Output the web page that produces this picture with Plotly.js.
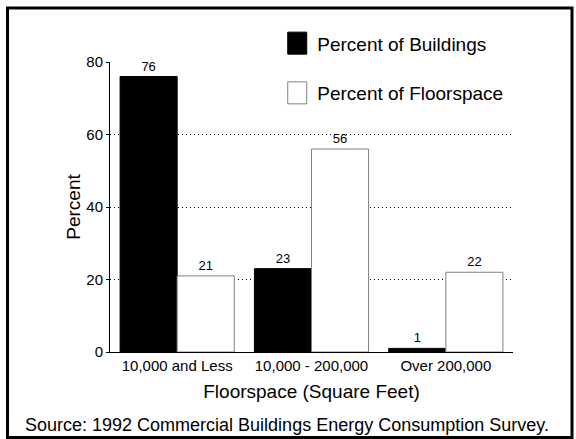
<!DOCTYPE html>
<html>
<head>
<meta charset="utf-8">
<script src="https://cdn.plot.ly/plotly-3.0.1.min.js"></script>
<style>
  html, body { margin: 0; padding: 0; background: #ffffff; }
  #chart { width: 576px; height: 439px; }
</style>
</head>
<body>
<div id="chart"></div>
<script>
// ---- data ----
const categories = ["10,000 and Less", "10,000 - 200,000", "Over 200,000"];
const seriesNames = ["Percent of Buildings", "Percent of Floorspace"];
const percentBuildings = [76, 23, 1];
const percentFloorspace = [21, 56, 22];
const yTickVals = [0, 20, 40, 60, 80];
const xTitle = "Floorspace (Square Feet)";
const yTitle = "Percent";
const sourceNote = "Source: 1992 Commercial Buildings Energy Consumption Survey.";

const FONT = "Liberation Sans, Arial, Helvetica, sans-serif";

const traces = [
  {
    type: "bar",
    name: seriesNames[0],
    legendgroup: "b",
    x: categories,
    y: percentBuildings,
    text: percentBuildings.map(String),
    textposition: "outside",
    cliponaxis: false,
    textfont: { family: FONT, size: 13, color: "#000000" },
    marker: { color: "#000000", line: { color: "#000000", width: 1 } },
    hoverinfo: "skip"
  },
  {
    type: "bar",
    name: seriesNames[1],
    legendgroup: "f",
    x: categories,
    y: percentFloorspace,
    text: percentFloorspace.map(String),
    textposition: "outside",
    cliponaxis: false,
    textfont: { family: FONT, size: 13, color: "#000000" },
    marker: { color: "#ffffff", line: { color: "#808080", width: 1 } },
    hoverinfo: "skip"
  }
];

const layout = {
  width: 576,
  height: 439,
  margin: { l: 110, r: 63, t: 62, b: 87, pad: 0 },
  paper_bgcolor: "#ffffff",
  plot_bgcolor: "#ffffff",
  font: { family: FONT, color: "#000000" },
  barmode: "group",
  bargap: 0.15,
  bargroupgap: 0,
  showlegend: true,
  legend: {
    x: 0.415, xanchor: "left",
    y: 1.13, yanchor: "top",
    bgcolor: "rgba(0,0,0,0)",
    borderwidth: 0,
    font: { family: FONT, size: 19, color: "#000000" },
    tracegroupgap: 22,
    traceorder: "grouped"
  },
  xaxis: {
    type: "category",
    range: [-0.5, 2.5],
    showline: true,
    linecolor: "#000000",
    linewidth: 1,
    ticks: "",
    showgrid: false,
    zeroline: false,
    tickfont: { family: FONT, size: 15, color: "#000000" },
    title: { text: xTitle, font: { family: FONT, size: 19, color: "#000000" }, standoff: 11 },
    automargin: false,
    fixedrange: true
  },
  yaxis: {
    range: [0, 80],
    tickvals: yTickVals,
    showline: true,
    linecolor: "#000000",
    linewidth: 1,
    ticks: "outside",
    ticklen: 3,
    tickcolor: "#000000",
    showgrid: true,
    gridcolor: "#000000",
    gridwidth: 1,
    griddash: "1px,3px",
    zeroline: false,
    tickfont: { family: FONT, size: 15, color: "#000000" },
    title: { text: yTitle, font: { family: FONT, size: 19, color: "#000000" }, standoff: 0 },
    automargin: false,
    fixedrange: true
  },
  shapes: [
    {
      type: "rect", xref: "paper", yref: "paper",
      x0: -0.2543, x1: 1.1464, y0: -0.2948, y1: 1.1862,
      line: { color: "#000000", width: 3 },
      fillcolor: "rgba(0,0,0,0)",
      layer: "above"
    }
  ],
  annotations: [
    {
      text: sourceNote,
      xref: "paper", yref: "paper",
      x: 0.4404, y: -0.2517,
      xanchor: "center", yanchor: "middle",
      showarrow: false,
      font: { family: FONT, size: 18, color: "#000000" }
    }
  ]
};

Plotly.newPlot("chart", traces, layout, { staticPlot: true, displayModeBar: false }).then(function () {
  // enlarge legend swatches to match the reference's tall boxes
  document.querySelectorAll("#chart .legendpoints path").forEach(function (p) {
    p.setAttribute("d", "M9.5,11H-9.5V-11H9.5Z");
  });
});
</script>
</body>
</html>
